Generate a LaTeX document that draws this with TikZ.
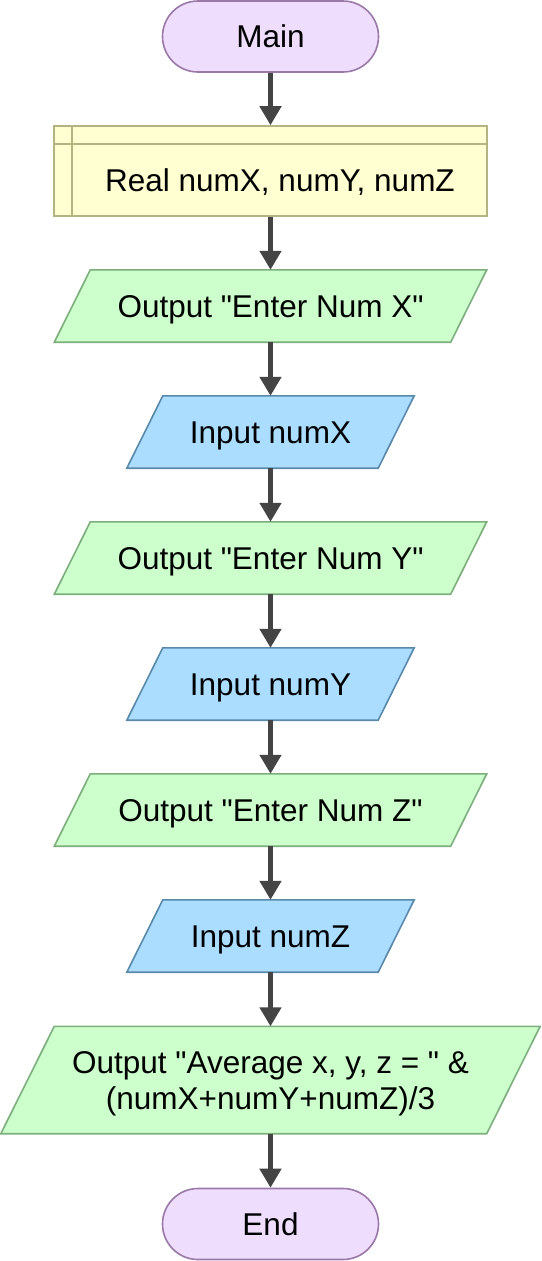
\documentclass[tikz,border=0pt]{standalone}
\usepackage{fontspec}
\setmainfont{Liberation Sans}[Ligatures=TeXOff]
\usetikzlibrary{arrows.meta,backgrounds}
\definecolor{termfill}{HTML}{EEDDFC}
\definecolor{termdraw}{HTML}{9A79A8}
\definecolor{declfill}{HTML}{FFFFD2}
\definecolor{decldraw}{HTML}{B4B482}
\definecolor{outfill}{HTML}{CCFFCC}
\definecolor{outdraw}{HTML}{7DAE7D}
\definecolor{infill}{HTML}{AADDFF}
\definecolor{indraw}{HTML}{5A8AAA}
\definecolor{arrowcol}{HTML}{444444}
\begin{document}
\begin{tikzpicture}[x=1pt,y=-1pt,
  txt/.style={font=\fontsize{31.5}{36}\selectfont, text height=22.5pt, text depth=0pt, inner sep=0pt},
  term/.style={txt, draw=termdraw, fill=termfill, line width=1.6pt, rounded corners=35.5pt, minimum width=216pt, minimum height=71pt},
  io/.style={txt, minimum height=72pt},
  outshape/.style={draw=outdraw, fill=outfill, line width=1.6pt},
  inshape/.style={draw=indraw, fill=infill, line width=1.6pt},
  flow/.style={draw=arrowcol, line width=4.5pt, -{Triangle[width=21pt,length=19pt]}}
]
\useasboundingbox (0,0) rectangle (541,1261);

\node[term] (main) at (270.5,36.5) {Main};

\node[draw=decldraw, fill=declfill, line width=1.6pt, minimum width=433pt, minimum height=90pt, inner sep=0pt] (decl) at (270.5,171) {};
\draw[decldraw, line width=1.6pt] ([xshift=19pt]decl.north west) -- ([xshift=19pt]decl.south west);
\draw[decldraw, line width=1.6pt] ([yshift=-19pt]decl.north west) -- ([yshift=-19pt]decl.north east);
\node[txt] (decltxt) at (280,180) {Real numX, numY, numZ};

\node[io, minimum width=432pt] (outx) at (270.5,306) {Output "Enter Num X"};
\node[io, minimum width=287pt] (inx) at (270.5,432) {Input numX};
\node[io, minimum width=432pt] (outy) at (270.5,558) {Output "Enter Num Y"};
\node[io, minimum width=287pt] (iny) at (270.5,684) {Input numY};
\node[io, minimum width=432pt] (outz) at (270.5,810) {Output "Enter Num Z"};
\node[io, minimum width=287pt] (inz) at (270.5,936) {Input numZ};
\node[io, minimum width=539pt, minimum height=107pt, text height=58.5pt, text depth=0pt, align=center] (avg) at (270.5,1080) {Output "Average x, y, z = " \&\\(numX+numY+numZ)/3};

\node[term] (end) at (270.5,1224) {End};

\begin{pgfonlayer}{background}
  \fill[white] (0,0) rectangle (541,1261);
  \foreach \n in {outx,outy,outz} {
    \path[outshape] ([xshift=36pt]\n.north west) -- (\n.north east) -- ([xshift=-36pt]\n.south east) -- (\n.south west) -- cycle;
  }
  \foreach \n in {inx,iny,inz} {
    \path[inshape] ([xshift=36pt]\n.north west) -- (\n.north east) -- ([xshift=-36pt]\n.south east) -- (\n.south west) -- cycle;
  }
  \path[outshape] ([xshift=53.5pt]avg.north west) -- (avg.north east) -- ([xshift=-53.5pt]avg.south east) -- (avg.south west) -- cycle;
\end{pgfonlayer}

\draw[flow] (main.south) -- (decl.north);
\draw[flow] (decl.south) -- (outx.north);
\draw[flow] (outx.south) -- (inx.north);
\draw[flow] (inx.south) -- (outy.north);
\draw[flow] (outy.south) -- (iny.north);
\draw[flow] (iny.south) -- (outz.north);
\draw[flow] (outz.south) -- (inz.north);
\draw[flow] (inz.south) -- (avg.north);
\draw[flow] (avg.south) -- (end.north);
\end{tikzpicture}
\end{document}
